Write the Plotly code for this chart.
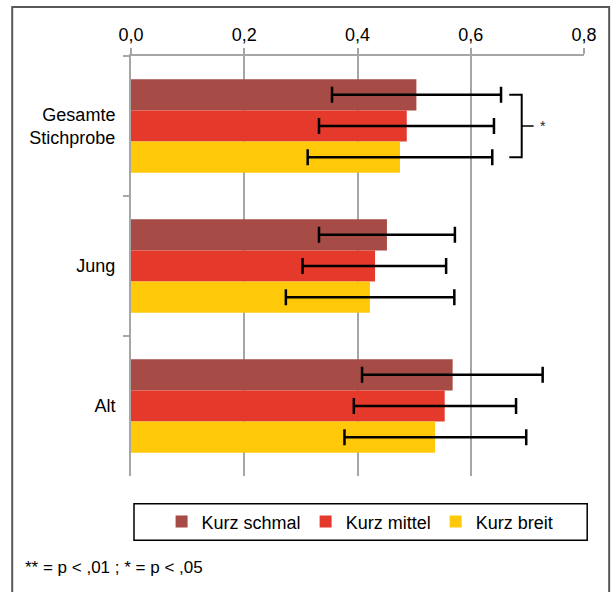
import plotly.graph_objects as go

categories = ["Gesamte<br>Stichprobe", "Jung", "Alt"]
series_names = ["Kurz schmal", "Kurz mittel", "Kurz breit"]
values_schmal = [0.504, 0.452, 0.568]
values_mittel = [0.487, 0.431, 0.554]
values_breit = [0.475, 0.422, 0.537]
ci_low_schmal = [0.355, 0.332, 0.408]
ci_high_schmal = [0.6535, 0.572, 0.727]
ci_low_mittel = [0.332, 0.303, 0.3935]
ci_high_mittel = [0.641, 0.5565, 0.680]
ci_low_breit = [0.312, 0.2735, 0.377]
ci_high_breit = [0.638, 0.571, 0.698]
tick_vals = [0, 0.2, 0.4, 0.6, 0.8]
tick_text = ["0,0", "0,2", "0,4", "0,6", "0,8"]
colors = ["#A64B45", "#E4392B", "#FFC90A"]

W, H = 616, 592
L, R, T, B = 130.5, 584.3, 55.5, 475.7
FONT = "Liberation Sans, Arial, sans-serif"
FS = 18

fig = go.Figure()
series = [
    (values_schmal, ci_low_schmal, ci_high_schmal),
    (values_mittel, ci_low_mittel, ci_high_mittel),
    (values_breit, ci_low_breit, ci_high_breit),
]
for name, color, (vals, lo, hi) in zip(series_names, colors, series):
    fig.add_trace(go.Bar(
        name=name, y=categories, x=vals, orientation="h",
        marker=dict(color=color, line=dict(width=0)),
        error_x=dict(type="data", symmetric=False,
                     array=[h - v for h, v in zip(hi, vals)],
                     arrayminus=[v - l for v, l in zip(vals, lo)],
                     color="black", thickness=2.5, width=8),
    ))

def px_x(p):
    return (p - L) / (R - L)

def px_y(p):
    return (B - p) / (B - T)

# outer frame (top, left, right)
frame_color = "#595959"
fig.add_shape(type="path", xref="paper", yref="paper",
              path=f"M {px_x(11.5)},{px_y(600)} L {px_x(11.5)},{px_y(6.5)} L {px_x(609.5)},{px_y(6.5)} L {px_x(609.5)},{px_y(600)}",
              line=dict(color=frame_color, width=2))

# significance bracket for first group
off = 1 / 3 * (1 - 0.333)
fig.add_shape(type="path", xref="x", yref="y",
              path=f"M 0.668,{-off} L 0.690,{-off} L 0.690,{off} L 0.668,{off}",
              line=dict(color="black", width=2))
fig.add_shape(type="line", xref="x", yref="y", x0=0.690, x1=0.711, y0=0, y1=0,
              line=dict(color="black", width=1.5))
fig.add_annotation(x=0.727, y=0, xref="x", yref="y", text="*", showarrow=False,
                   font=dict(size=14, color="#222", family=FONT))

# legend box
fig.add_shape(type="rect", xref="paper", yref="paper",
              x0=px_x(133.5), x1=px_x(587.5), y0=px_y(540), y1=px_y(503.5),
              line=dict(color="black", width=1.5), fillcolor="rgba(0,0,0,0)")

# footnote
fig.add_annotation(x=px_x(22), y=px_y(567), xref="paper", yref="paper",
                   xanchor="left", yanchor="middle", showarrow=False,
                   text="** = p < ,01 ; * = p < ,05",
                   font=dict(size=17, color="black", family=FONT))

fig.update_layout(
    width=W, height=H,
    margin=dict(l=L, r=W - R, t=T, b=H - B, pad=0),
    paper_bgcolor="white", plot_bgcolor="white",
    barmode="group", bargap=0.333, bargroupgap=0,
    font=dict(family=FONT, size=FS, color="black"),
    showlegend=True,
    legend=dict(orientation="h", x=px_x(360), xanchor="center",
                y=px_y(521.5), yanchor="middle",
                bgcolor="rgba(0,0,0,0)", borderwidth=0,
                font=dict(size=FS, family=FONT), traceorder="normal"),
    xaxis=dict(side="top", range=[0, 0.8], tickvals=tick_vals, ticktext=tick_text,
               showgrid=True, gridcolor="#A6A6A6", gridwidth=2,
               showline=True, linecolor="#A6A6A6", linewidth=2,
               ticks="outside", ticklen=6, tickcolor="#A6A6A6", tickwidth=2,
               zeroline=False, tickfont=dict(size=FS, family=FONT)),
    yaxis=dict(autorange="reversed", tickson="boundaries",
               showgrid=False, showline=True, linecolor="#A6A6A6", linewidth=2,
               ticks="outside", ticklen=6, tickcolor="#A6A6A6", tickwidth=2,
               ticklabelstandoff=10, tickfont=dict(size=FS, family=FONT)),
)

fig.write_html("out.html", config={"displayModeBar": False},
               post_script="document.body.style.margin='0px';")
